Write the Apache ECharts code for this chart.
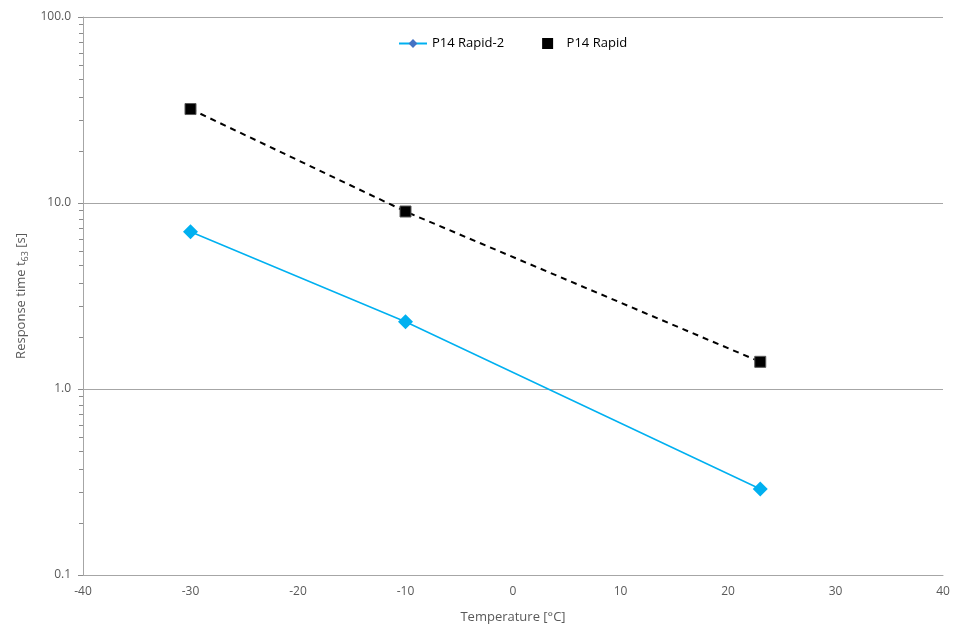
<!DOCTYPE html>
<html>
<head>
<meta charset="utf-8">
<script src="https://cdn.jsdelivr.net/npm/echarts@6/dist/echarts.min.js"></script>
<style>html,body{margin:0;padding:0;background:#fff}#c{width:958px;height:630px}</style>
</head>
<body>
<div id="c"></div>
<script>
const rapid2Temps = [-30, -10, 23];
const rapid2Times = [7.0, 2.3, 0.29];
const rapidTemps = [-30, -10, 23];
const rapidTimes = [32, 9.0, 1.4];
const seriesNames = ['P14 Rapid-2', 'P14 Rapid'];
const xTicks = { min: -40, max: 40, interval: 10 };
const yTicks = { min: 0.1, max: 100 };

const pair = (xs, ys) => xs.map((x, i) => [x, ys[i]]);
const font = "'Open Sans', 'Noto Sans', sans-serif";
const chart = echarts.init(document.getElementById('c'));
chart.setOption({
  animation: false,
  textStyle: { fontFamily: font },
  grid: { left: 83, right: 15, top: 17, bottom: 55 },
  legend: {
    left: 393, top: 32, itemWidth: 28, itemHeight: 11, itemGap: 38,
    textStyle: { fontFamily: font, fontSize: 13, color: '#000' },
    data: [
      { name: seriesNames[0], itemStyle: { color: '#4472C4', borderWidth: 0 }, lineStyle: { color: '#00B0F0', width: 2, type: 'solid' } },
      { name: seriesNames[1], icon: 'path://M0,0L10,0L10,10L0,10Z', symbolKeepAspect: true, itemStyle: { color: '#000', borderWidth: 0 } }
    ]
  },
  xAxis: {
    type: 'value', min: xTicks.min, max: xTicks.max, interval: xTicks.interval,
    name: 'Temperature [°C]', nameLocation: 'middle', nameGap: 36,
    nameTextStyle: { color: '#595959', fontSize: 13, fontFamily: font },
    axisLine: { show: true, onZero: false, lineStyle: { color: '#a6a6a6', width: 1 } },
    axisTick: { show: false },
    splitLine: { show: false },
    axisLabel: { color: '#595959', fontSize: 12, margin: 11, fontFamily: font }
  },
  yAxis: {
    type: 'log', logBase: 10, min: yTicks.min, max: yTicks.max,
    name: '{n|Response time t}{s|63}{n| [s]}', nameLocation: 'middle', nameGap: 53, nameRotate: 90,
    nameTextStyle: { color: '#595959', fontFamily: font,
      rich: { n: { fontSize: 13, color: '#595959', fontFamily: font },
              s: { fontSize: 9, color: '#595959', verticalAlign: 'bottom', padding: [8, 0, 0, 0], fontFamily: font } } },
    axisLine: { show: true, onZero: false, lineStyle: { color: '#a6a6a6', width: 1 } },
    axisTick: { show: true, inside: false, length: 5, lineStyle: { color: '#8c8c8c' } },
    minorTick: { show: true, splitNumber: 10, length: 4, lineStyle: { color: '#8c8c8c' } },
    splitLine: { show: true, lineStyle: { color: '#a6a6a6', width: 1 } },
    axisLabel: { color: '#595959', fontSize: 12, margin: 12, fontFamily: font,
      formatter: v => Number(v).toFixed(1) }
  },
  series: [
    { name: seriesNames[0], type: 'line', data: pair(rapid2Temps, rapid2Times),
      symbol: 'diamond', symbolSize: 15,
      itemStyle: { color: '#00B0F0' }, lineStyle: { color: '#00B0F0', width: 1.5 } },
    { name: seriesNames[1], type: 'line', data: pair(rapidTemps, rapidTimes),
      symbol: 'rect', symbolSize: 11,
      itemStyle: { color: '#000', borderColor: '#595959', borderWidth: 1 },
      lineStyle: { color: '#000', width: 2, type: [6, 5] } }
  ]
});
</script>
</body>
</html>
